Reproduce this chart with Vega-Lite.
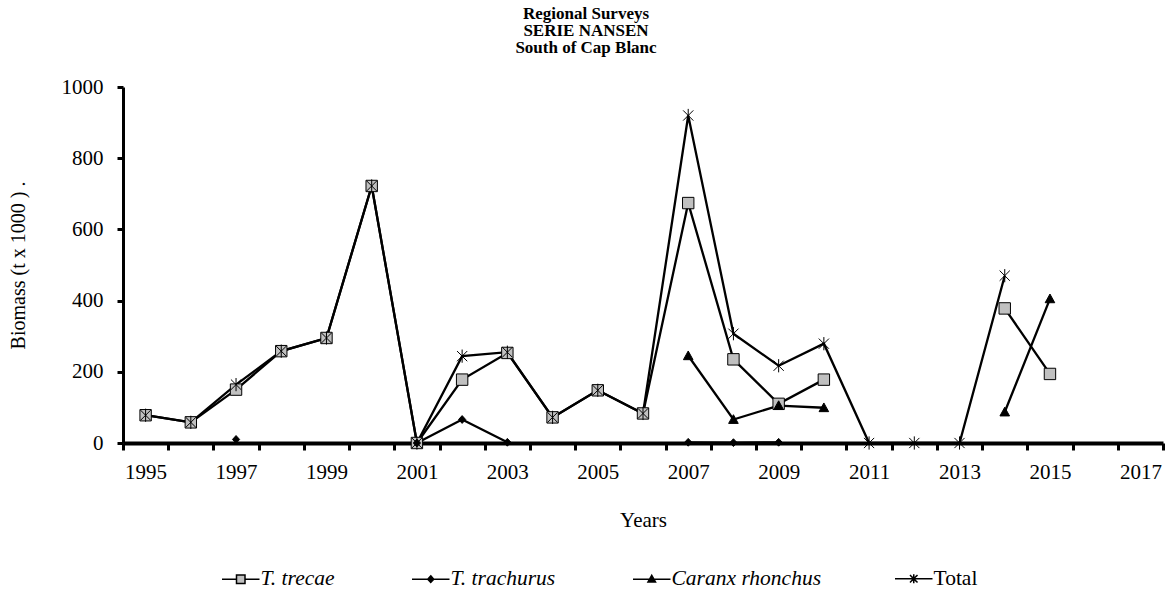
{
  "$schema": "https://vega.github.io/schema/vega-lite/v6.json",
  "width": 1040,
  "height": 356,
  "autosize": {"type": "none"},
  "padding": {"left": 123, "top": 87, "right": 3, "bottom": 152},
  "background": "white",
  "config": {
    "view": {"stroke": null},
    "font": "Liberation Serif",
    "axis": {"grid": false, "domainColor": "black", "tickColor": "black", "labelColor": "black", "titleColor": "black", "labelFont": "Liberation Serif", "titleFont": "Liberation Serif", "titleFontWeight": "normal"},
    "legend": {"labelFont": "Liberation Serif", "labelColor": "black", "labelFontSize": 21.5, "direction": "horizontal", "orient": "none", "symbolOffset": 17, "labelOffset": 9, "columnPadding": 68}
  },
  "title": {
    "text": ["Regional Surveys", "SERIE NANSEN", "South of Cap Blanc"],
    "font": "Liberation Serif",
    "fontSize": 17,
    "fontWeight": "bold",
    "lineHeight": 17,
    "color": "black",
    "anchor": "middle",
    "frame": "group",
    "dx": -57,
    "offset": 19
  },
  "data": {
    "values": [
      {"year": 1995, "series": "T. trecae", "value": 78},
      {"year": 1996, "series": "T. trecae", "value": 58},
      {"year": 1997, "series": "T. trecae", "value": 150},
      {"year": 1998, "series": "T. trecae", "value": 258},
      {"year": 1999, "series": "T. trecae", "value": 295},
      {"year": 2000, "series": "T. trecae", "value": 722},
      {"year": 2001, "series": "T. trecae", "value": 0},
      {"year": 2002, "series": "T. trecae", "value": 178},
      {"year": 2003, "series": "T. trecae", "value": 253},
      {"year": 2004, "series": "T. trecae", "value": 72},
      {"year": 2005, "series": "T. trecae", "value": 148},
      {"year": 2006, "series": "T. trecae", "value": 83},
      {"year": 2007, "series": "T. trecae", "value": 674},
      {"year": 2008, "series": "T. trecae", "value": 235},
      {"year": 2009, "series": "T. trecae", "value": 110},
      {"year": 2010, "series": "T. trecae", "value": 178},
      {"year": 2011, "series": "T. trecae", "value": null},
      {"year": 2014, "series": "T. trecae", "value": 378},
      {"year": 2015, "series": "T. trecae", "value": 194},
      {"year": 1996, "series": "T. trachurus", "value": null},
      {"year": 1997, "series": "T. trachurus", "value": 10},
      {"year": 1998, "series": "T. trachurus", "value": null},
      {"year": 2001, "series": "T. trachurus", "value": 0},
      {"year": 2002, "series": "T. trachurus", "value": 66},
      {"year": 2003, "series": "T. trachurus", "value": 2},
      {"year": 2004, "series": "T. trachurus", "value": null},
      {"year": 2007, "series": "T. trachurus", "value": 2},
      {"year": 2008, "series": "T. trachurus", "value": 1},
      {"year": 2009, "series": "T. trachurus", "value": 2},
      {"year": 2007, "series": "Caranx rhonchus", "value": 245},
      {"year": 2008, "series": "Caranx rhonchus", "value": 66},
      {"year": 2009, "series": "Caranx rhonchus", "value": 105},
      {"year": 2010, "series": "Caranx rhonchus", "value": 99},
      {"year": 2011, "series": "Caranx rhonchus", "value": null},
      {"year": 2014, "series": "Caranx rhonchus", "value": 87},
      {"year": 2015, "series": "Caranx rhonchus", "value": 405},
      {"year": 1995, "series": "Total", "value": 78},
      {"year": 1996, "series": "Total", "value": 58},
      {"year": 1997, "series": "Total", "value": 164},
      {"year": 1998, "series": "Total", "value": 258},
      {"year": 1999, "series": "Total", "value": 295},
      {"year": 2000, "series": "Total", "value": 722},
      {"year": 2001, "series": "Total", "value": 0},
      {"year": 2002, "series": "Total", "value": 244},
      {"year": 2003, "series": "Total", "value": 255},
      {"year": 2004, "series": "Total", "value": 72},
      {"year": 2005, "series": "Total", "value": 148},
      {"year": 2006, "series": "Total", "value": 83},
      {"year": 2007, "series": "Total", "value": 920},
      {"year": 2008, "series": "Total", "value": 307},
      {"year": 2009, "series": "Total", "value": 217},
      {"year": 2010, "series": "Total", "value": 279},
      {"year": 2011, "series": "Total", "value": 0},
      {"year": 2012, "series": "Total", "value": 0},
      {"year": 2013, "series": "Total", "value": 0},
      {"year": 2014, "series": "Total", "value": 470}
    ]
  },
  "encoding": {
    "x": {
      "field": "year",
      "type": "ordinal",
      "scale": {"type": "band", "paddingInner": 0, "paddingOuter": 0,
        "domain": [1995,1996,1997,1998,1999,2000,2001,2002,2003,2004,2005,2006,2007,2008,2009,2010,2011,2012,2013,2014,2015,2016,2017]},
      "axis": {
        "title": "Years",
        "labelAngle": 0,
        "labelExpr": "datum.value % 2 == 1 ? datum.label : ''",
        "labelOverlap": false,
        "tickBand": "extent",
        "domainWidth": 4,
        "tickWidth": 3,
        "tickSize": 7,
        "labelFont": "Liberation Serif",
        "labelFontSize": 21,
        "labelPadding": 11,
        "titleFontSize": 21,
        "titlePadding": 27
      }
    },
    "y": {
      "field": "value",
      "type": "quantitative",
      "scale": {"domain": [0, 1000], "nice": false},
      "axis": {
        "title": "Biomass (t x 1000 ) .",
        "values": [0, 200, 400, 600, 800, 1000],
        "format": "d",
        "domainWidth": 3,
        "tickWidth": 3,
        "tickSize": 6,
        "labelFont": "Liberation Serif",
        "labelFontSize": 21,
        "labelPadding": 14,
        "titleFontSize": 20,
        "titlePadding": 33
      }
    }
  },
  "layer": [
    {
      "mark": {"type": "line", "color": "black", "strokeWidth": 2.3, "invalid": "break-paths-show-domains"},
      "encoding": {"detail": {"field": "series"}}
    },
    {
      "mark": {"type": "point", "filled": true, "size": 144, "stroke": "black", "strokeWidth": 1, "opacity": 1, "invalid": "filter"},
      "encoding": {
        "shape": {
          "field": "series",
          "type": "nominal",
          "sort": null,
          "legend": null,
          "scale": {
            "domain": ["T. trecae", "T. trachurus", "Caranx rhonchus", "Total"],
            "range": [
              "M-0.95,-0.95H0.95V0.95H-0.95Z",
              "M0,-0.65L0.6,0L0,0.65L-0.6,0Z",
              "M0,-0.8L0.8,0.65L-0.8,0.65Z",
              "M-0.85,-0.85L0.85,0.85M-0.85,0.85L0.85,-0.85M0,-1.1L0,1.1"
            ]
          }
        },
        "fill": {
          "field": "series",
          "type": "nominal",
          "sort": null,
          "legend": null,
          "scale": {
            "domain": ["T. trecae", "T. trachurus", "Caranx rhonchus", "Total"],
            "range": ["#c0c0c0", "black", "black", "transparent"]
          }
        }
      }
    },
    {
      "transform": [{"filter": "datum.year < 0"}],
      "mark": {"type": "point", "filled": true, "size": 144, "stroke": "black", "strokeWidth": 1.5, "opacity": 1},
      "encoding": {
        "shape": {
          "field": "series",
          "type": "nominal",
          "sort": null,
          "scale": {
            "domain": ["T. trecae", "T. trachurus", "Caranx rhonchus"],
            "range": [
              "M-3.75,0L-0.85,0M0.85,0L3.75,0M-0.85,-0.85H0.85V0.85H-0.85Z",
              "M-3.75,0L3.75,0M0,-0.65L0.6,0L0,0.65L-0.6,0Z",
              "M-3.75,0L3.75,0M0,-0.75L0.75,0.55L-0.75,0.55Z"
            ]
          },
          "legend": {"title": null, "orient": "none", "legendX": 90, "legendY": 481, "direction": "horizontal", "labelFontStyle": "italic"}
        },
        "fill": {
          "field": "series",
          "type": "nominal",
          "sort": null,
          "scale": {
            "domain": ["T. trecae", "T. trachurus", "Caranx rhonchus"],
            "range": ["#c0c0c0", "black", "black"]
          },
          "legend": {"title": null, "orient": "none", "legendX": 90, "legendY": 481, "direction": "horizontal", "labelFontStyle": "italic"}
        }
      }
    },
    {
      "transform": [{"filter": "datum.year < 0"}],
      "mark": {"type": "point", "filled": false, "size": 144, "stroke": "black", "strokeWidth": 1.5, "opacity": 1},
      "encoding": {
        "strokeDash": {
          "field": "series",
          "type": "nominal",
          "scale": {"domain": ["Total"], "range": [[1, 0]]},
          "legend": null
        },
        "shape": {
          "field": "series",
          "type": "nominal",
          "scale": {
            "domain": ["Total"],
            "range": ["M-3.75,0L3.75,0M-0.75,-0.75L0.75,0.75M-0.75,0.75L0.75,-0.75M0,-0.9L0,0.9"]
          },
          "legend": {"title": null, "orient": "none", "legendX": 763, "legendY": 481, "direction": "horizontal", "labelFontStyle": "normal"}
        }
      }
    }
  ],
  "resolve": {
    "scale": {"shape": "independent", "fill": "independent", "strokeDash": "independent"},
    "legend": {"shape": "independent", "fill": "independent", "strokeDash": "independent"}
  }
}
